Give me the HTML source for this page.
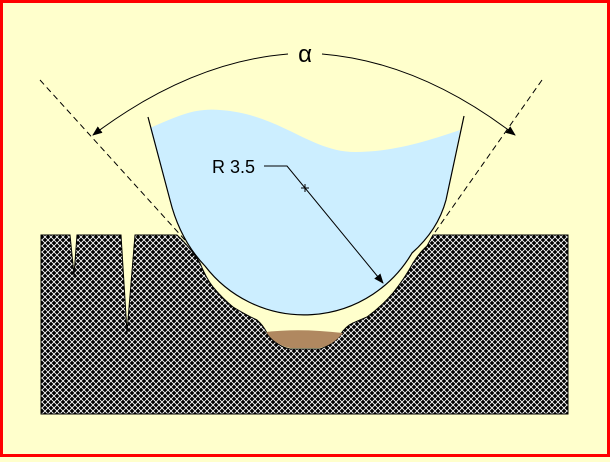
<!DOCTYPE html>
<html><head><style>
html,body{margin:0;padding:0;}
body{width:610px;height:457px;overflow:hidden;background:#ffffcc;}
</style></head><body>
<svg width="610" height="457" viewBox="0 0 610 457" xmlns="http://www.w3.org/2000/svg">
<defs>
<pattern id="h" width="6" height="6" patternUnits="userSpaceOnUse">
<rect width="6" height="6" fill="#000"/>
<path d="M0,0 L6,6 M6,0 L0,6" stroke="#fff" stroke-width="0.9"/>
</pattern>
<marker id="a" markerWidth="10" markerHeight="8" refX="9" refY="4" orient="auto" markerUnits="userSpaceOnUse">
<path d="M0,0 L10,4 L0,8 Z" fill="#000"/>
</marker>
</defs>
<rect x="1.5" y="1.5" width="607" height="454" fill="#ffffcc" stroke="#ff0000" stroke-width="3"/>
<path d="M41,235 L70,235 L74,275 L77,235 L121,235 L127,332 L135,235 L177,235 Q190,247 200,263 Q206,278 213,287 Q222,298 233,307 Q248,316 257,320 Q263,325 267,333 Q276,346 290,349 L320,349 Q332,345 340,335 Q346,326 353,323 Q360,320 367,317 Q382,306 393,293 Q405,278 413,263 Q420,252 427,246 L433,235 L568,235 L568,414 L41,414 Z" fill="url(#h)" stroke="#000" stroke-width="1"/>
<path d="M266,332 Q300,328 343,333 Q333,345 320,348 L290,348 Q275,345 266,332 Z" fill="#b08860"/>
<path d="M150,128 C180,115 195,108 220,110 C280,114 310,152 355,152 C395,152 430,140 460,130 L446,200 Q438,230 412,253 A125,125 0 0 1 205,266 Q180,240 170,200 Z" fill="#cceeff"/>
<path d="M148,117 L170,200 Q180,240 205,266 A125,125 0 0 0 412,253 Q438,230 446,200 L464,116" fill="none" stroke="#000" stroke-width="1.2"/>
<line x1="40" y1="80" x2="185" y2="240" stroke="#000" stroke-dasharray="6,4" stroke-width="1"/>
<line x1="542" y1="80" x2="433" y2="235" stroke="#000" stroke-dasharray="6,4" stroke-width="1"/>
<path d="M288,54 Q190,62 93,135" fill="none" stroke="#000" stroke-width="1" marker-end="url(#a)"/>
<path d="M322,54 Q420,62 515,135" fill="none" stroke="#000" stroke-width="1" marker-end="url(#a)"/>
<text x="305" y="62" font-family="Liberation Sans, sans-serif" font-size="24" text-anchor="middle">α</text>
<text x="212" y="173" font-family="Liberation Sans, sans-serif" font-size="18">R 3.5</text>
<path d="M264,166 L287,166 L383,283" fill="none" stroke="#000" stroke-width="1" marker-end="url(#a)"/>
<path d="M305,184 L305,192 M301,188 L309,188" stroke="#000" stroke-width="1"/>
</svg>
</body></html>
